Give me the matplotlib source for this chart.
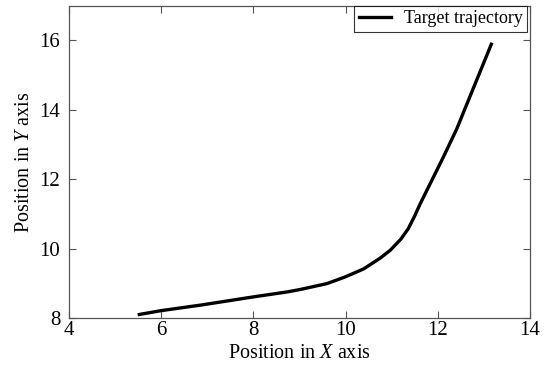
import matplotlib
matplotlib.use("Agg")
import matplotlib.pyplot as plt

plt.rcParams['font.family'] = 'Liberation Serif'
plt.rcParams['mathtext.fontset'] = 'custom'
plt.rcParams['mathtext.rm'] = 'Liberation Serif'
plt.rcParams['mathtext.it'] = 'Liberation Serif:italic'

# target trajectory
pos_x = [5.53, 6.0, 6.86, 8.02, 8.74, 9.02, 9.6, 9.99, 10.39, 10.75,
         10.97, 11.2, 11.36, 11.5, 11.62, 12.12, 12.41, 13.16]
pos_y = [8.11, 8.22, 8.38, 8.62, 8.76, 8.83, 9.0, 9.19, 9.42, 9.73,
         9.96, 10.28, 10.58, 10.95, 11.3, 12.64, 13.45, 15.89]

x_ticks = [4, 6, 8, 10, 12, 14]
y_ticks = [8, 10, 12, 14, 16]

fig = plt.figure(figsize=(5.51, 3.67), dpi=100)
ax = fig.add_axes([0.1247, 0.1327, 0.962 - 0.1247, 0.9845 - 0.1327])

ax.plot(pos_x, pos_y, color='black', linewidth=2.4, label='Target trajectory',
        solid_joinstyle='round')

ax.set_xlim(4, 14)
ax.set_ylim(8, 17)
ax.set_xticks(x_ticks)
ax.set_yticks(y_ticks)
ax.tick_params(direction='in', top=True, right=True, labelsize=15,
               length=5, width=0.8, color='#555555')
ax.tick_params(axis='x', pad=2)
ax.tick_params(axis='y', pad=6)
for s in ax.spines.values():
    s.set_color('#555555')
    s.set_linewidth(0.9)

ax.set_xlabel('Position in $\\it{X}$ axis', fontsize=14.5, labelpad=3)
ax.set_ylabel('Position in $\\it{Y}$ axis', fontsize=14.5, labelpad=4)

leg = ax.legend(loc='upper right', fontsize=13, frameon=True, fancybox=False,
                borderaxespad=0, handlelength=1.8, borderpad=0.25,
                handletextpad=0.7, bbox_to_anchor=(0.994, 1.0))
leg.get_frame().set_edgecolor('black')
leg.get_frame().set_linewidth(0.8)

fig.savefig('out.png', dpi=100)
